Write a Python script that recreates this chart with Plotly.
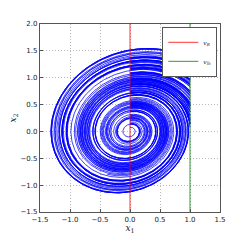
import numpy as np
import plotly.graph_objects as go

# values
x_ticks = [-1.5, -1.0, -0.5, 0.0, 0.5, 1.0, 1.5]
y_ticks = [-1.5, -1.0, -0.5, 0.0, 0.5, 1.0, 1.5, 2.0]
x_range = [-1.5, 1.5]
y_range = [-1.5, 2.0]
start_point = [0.0, 0.2]      # trajectory starts on v_R
reset_line = 1.0              # v_lh : x1 = 1  ->  x1 := 0
restart_line = 0.0            # v_R  : x1 = 0
growth = 0.19                 # unstable focus: x2' = -x1 + growth*x2
t_end = 600.0
dt = 0.01

def f(x1, x2):
    return x2, -x1 + growth * x2

xs, ys = [start_point[0]], [start_point[1]]
x1, x2 = start_point
n = int(t_end / dt)
for i in range(n):
    k1 = f(x1, x2)
    k2 = f(x1 + dt / 2 * k1[0], x2 + dt / 2 * k1[1])
    k3 = f(x1 + dt / 2 * k2[0], x2 + dt / 2 * k2[1])
    k4 = f(x1 + dt * k3[0], x2 + dt * k3[1])
    x1 += dt / 6 * (k1[0] + 2 * k2[0] + 2 * k3[0] + k4[0])
    x2 += dt / 6 * (k1[1] + 2 * k2[1] + 2 * k3[1] + k4[1])
    if x1 >= reset_line:
        xs.append(reset_line); ys.append(x2)
        xs.append(None); ys.append(None)
        x1 = restart_line
    if i % 2 == 0:
        xs.append(x1); ys.append(x2)

fig = go.Figure()
fig.add_trace(go.Scatter(x=xs, y=ys, mode="lines", line=dict(color="#0000ff", width=0.75),
                         showlegend=False, hoverinfo="skip"))
fig.add_trace(go.Scatter(x=[restart_line, restart_line], y=y_range, mode="lines",
                         line=dict(color="#ff0000", width=0.8), name="<i>v<sub>R</sub></i>"))
fig.add_trace(go.Scatter(x=[reset_line, reset_line], y=y_range, mode="lines",
                         line=dict(color="#008000", width=0.8), name="<i>v<sub>lh</sub></i>"))

axis_common = dict(showgrid=True, gridcolor="#b8b8b8", griddash="1px,2px", gridwidth=0.8,
                   zeroline=False, showline=True, linecolor="#555555", linewidth=1.2,
                   mirror=True, ticks="inside", ticklen=3, tickcolor="#555555",
                   tickfont=dict(family="DejaVu Sans", size=7, color="#222222"))
fig.update_xaxes(range=x_range, tickvals=x_ticks,
                 ticktext=[f"{v:.1f}".replace("-", "\u2212") for v in x_ticks],
                 title=dict(text="<i>x</i><sub>1</sub>", font=dict(family="DejaVu Serif", size=9, color="#222222"), standoff=2),
                 **axis_common)
fig.update_yaxes(range=y_range, tickvals=y_ticks,
                 ticktext=[f"{v:.1f}".replace("-", "\u2212") for v in y_ticks],
                 title=dict(text="<i>x</i><sub>2</sub>", font=dict(family="DejaVu Serif", size=9, color="#222222"), standoff=2),
                 **axis_common)
fig.update_layout(width=244, height=244, margin=dict(l=31, r=24, t=24, b=25),
                  paper_bgcolor="white", plot_bgcolor="white",
                  legend=dict(x=0.985, y=0.985, xanchor="right", yanchor="top",
                              bgcolor="white", bordercolor="#555555", borderwidth=1,
                              font=dict(family="DejaVu Serif", size=6, color="#222222"),
                              itemwidth=30, tracegroupgap=0))
fig.write_html("out.html", config={"displayModeBar": False},
               post_script="document.body.style.margin='0px';")
